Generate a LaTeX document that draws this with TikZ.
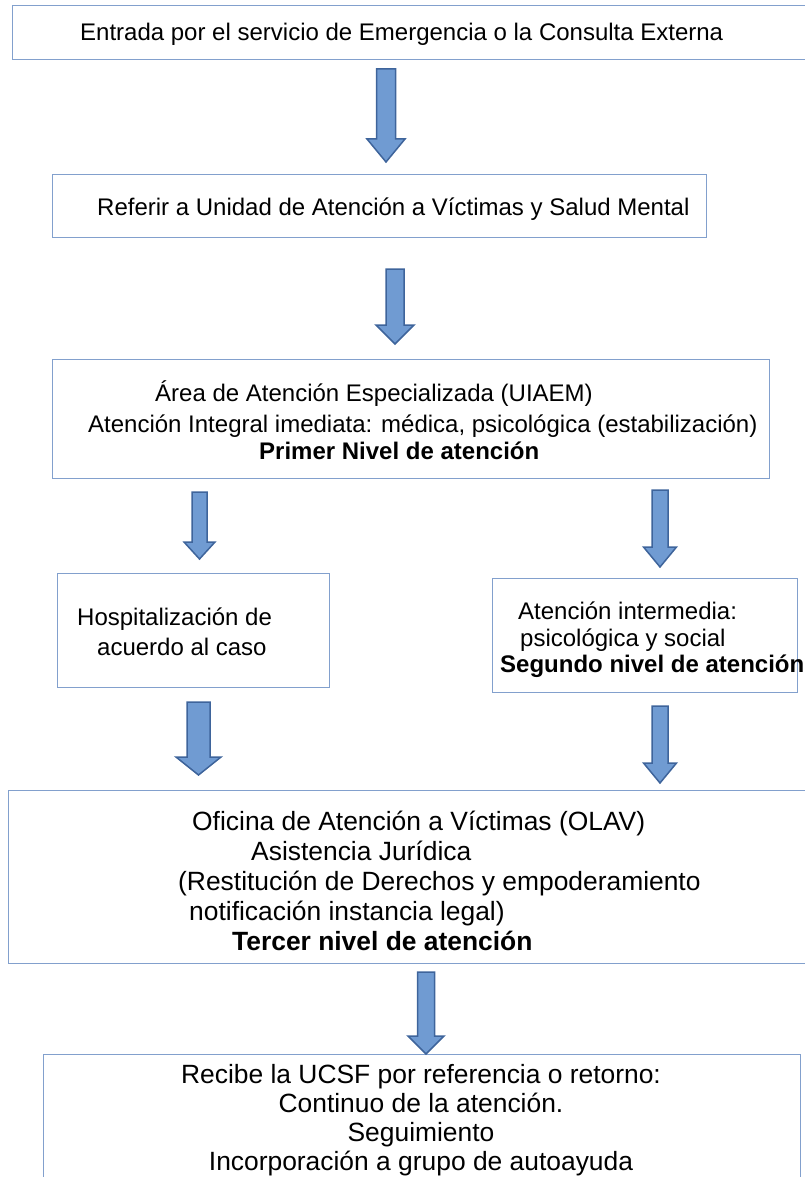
\documentclass[tikz,border=0pt]{standalone}
\usepackage{fontspec}
\setmainfont{Liberation Sans}
\definecolor{borde}{RGB}{130,160,205}
\definecolor{relleno}{RGB}{112,155,210}
\definecolor{contorno}{RGB}{62,100,155}
\newcommand{\grosor}{1.2pt}
% x, top, tip, half shaft, half head, head length
\newcommand{\flecha}[6]{\draw[bloque] (#1-#4,#2) -- (#1+#4,#2) -- (#1+#4,#3-#6) -- (#1+#5,#3-#6) -- (#1,#3) -- (#1-#5,#3-#6) -- (#1-#4,#3-#6) -- cycle;}

\begin{document}
\begin{tikzpicture}[x=1pt,y=-1pt]
    \tikzset{caja/.style={draw=borde, line width=\grosor, inner sep=0pt, anchor=north west},
             texto/.style={inner sep=0pt, align=left, anchor=base west, font=\fontsize{24}{30}\selectfont},
             grande/.style={font=\fontsize{26.4}{30}\selectfont},
             bloque/.style={fill=relleno, draw=contorno, line width=1.5pt, line join=miter}}
    \useasboundingbox (0,0) rectangle (805,1177);
    %\draw[help lines,step=50] (0,0) grid (805,1177);

    \node[caja, minimum width=803pt, minimum height=54pt] (c1) at (12,5) {};
    \node[caja, minimum width=654pt, minimum height=63pt] (c2) at (52,174) {};
    \node[caja, minimum width=717pt, minimum height=119pt] (c3) at (52,359) {};
    \node[caja, minimum width=272pt, minimum height=114pt] (c4) at (57,573) {};
    \node[caja, minimum width=305pt, minimum height=114pt] (c5) at (492,578) {};
    \node[caja, minimum width=807pt, minimum height=173pt] (c6) at (8,790) {};
    \node[caja, minimum width=757pt, minimum height=160pt] (c7) at (43,1054) {};

    % base = baseline of the last line
    \node[texto] (t1) at (80,41) {Entrada por el servicio de Emergencia o la Consulta Externa};
    \node[texto] (t2) at (97,215) {Referir a Unidad de Atención a Víctimas y Salud Mental};
    \node[texto] (t3) at (88,459) {\hspace*{67pt}Área de Atención Especializada (UIAEM)\\[1pt]
        Atención Integral imediata: médica, psicológica (estabilización)\\[-3pt]
        \hspace*{171pt}\textbf{Primer Nivel de atención}};
    \node[texto] (t4) at (77,655) {Hospitalización de\\ \hspace*{20pt}acuerdo al caso};
    \node[texto] (t5) at (500,672) {\hspace*{18pt}Atención intermedia:\\[-3pt]
        \hspace*{20pt}psicológica y social\\[-4pt]
        \textbf{Segundo nivel de atención}};
    \node[texto, grande] (t6) at (178,950) {\hspace*{14pt}Oficina de Atención a Víctimas (OLAV)\\
        \hspace*{73pt}Asistencia Jurídica\\
        (Restitución de Derechos y empoderamiento\\
        \hspace*{11pt}notificación instancia legal)\\
        \hspace*{54pt}\textbf{Tercer nivel de atención}};
    \node[texto, grande, align=center, anchor=base] (t7) at (421,1170) {Recibe la UCSF por referencia o retorno:\\[-1pt]
        Continuo de la atención.\\[-1pt] Seguimiento\\[-1pt] Incorporación a grupo de autoayuda};

    \flecha{386}{69}{162}{9.5}{19}{23}
    \flecha{395}{269}{344}{9}{19}{19}
    \flecha{199.5}{492}{559}{7.5}{15.5}{17}
    \flecha{660}{490}{567}{8}{16.5}{20}
    \flecha{198.5}{702}{775}{11.5}{22.5}{18}
    \flecha{660}{706}{783}{8}{16.5}{20}
    \flecha{426}{972}{1054}{8.5}{18}{18}
\end{tikzpicture}
\end{document}
